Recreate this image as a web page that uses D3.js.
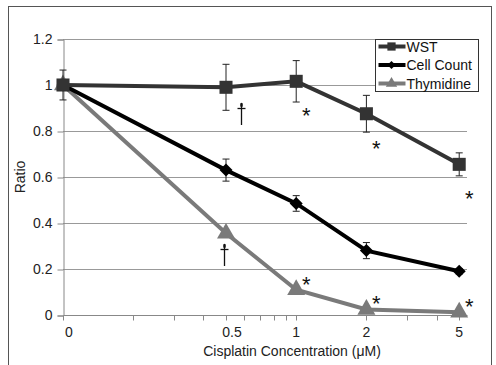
<!DOCTYPE html>
<html>
<head>
<meta charset="utf-8">
<script src="https://cdn.jsdelivr.net/npm/d3@7"></script>
<style>
  body { margin: 0; background: #fff; }
  text { font-family: Arial, "Liberation Sans", sans-serif; }
</style>
</head>
<body>
<svg id="chart" width="496" height="365"></svg>
<script>
// concentrations (0 is drawn at the log axis floor 0.1)
let concentrations = [0, 0.5, 1, 2, 5]
let tickLabels = ["0", "0.5", "1", "2", "5"]

let wst = [1.0, 0.99, 1.016, 0.875, 0.655]
let wstErr = [0.065, 0.1, 0.09, 0.08, 0.05]
let cellCount = [1.0, 0.63, 0.485, 0.28, 0.19]
let cellErr = [0.0, 0.048, 0.034, 0.035, 0.012]
let thymidine = [1.0, 0.355, 0.11, 0.024, 0.012]
let thymErr = [0, 0, 0, 0, 0]

let seriesNames = ["WST", "Cell Count", "Thymidine"]

// significance marks: [series index, concentration, symbol]
let marks = [
  [0, 0.5, "†"], [0, 1, "*"], [0, 2, "*"], [0, 5, "*"],
  [2, 0.5, "†"], [2, 1, "*"], [2, 2, "*"], [2, 5, "*"]
]

let width = 496
let height = 365
let margin = { top: 39, right: 26, bottom: 50, left: 63 }
let svg = d3.select("#chart")

let diamond = {
  draw: function (ctx, size) {
    let r = Math.sqrt(size / 2)
    ctx.moveTo(0, -r)
    ctx.lineTo(r, 0)
    ctx.lineTo(0, r)
    ctx.lineTo(-r, 0)
    ctx.closePath()
  }
}

let series = [
  { name: seriesNames[0], values: wst, err: wstErr, color: "#333333", shape: d3.symbolSquare, size: 170 },
  { name: seriesNames[1], values: cellCount, err: cellErr, color: "#000000", shape: diamond, size: 85 },
  { name: seriesNames[2], values: thymidine, err: thymErr, color: "#7a7a7a", shape: d3.symbolTriangle, size: 140 }
]

let x = d3.scaleLog()
  .domain([0.1, 5.4])
  .range([margin.left, width - margin.right - 3])

let xPos = c => x(c === 0 ? 0.1 : c)

let y = d3.scaleLinear()
  .domain([0, 1.2])
  .range([height - margin.bottom, margin.top])

// outer frame
svg.append("rect")
  .attr("x", 8.5).attr("y", 6.5)
  .attr("width", 483).attr("height", 380)
  .style("fill", "none")
  .style("stroke", "#555")
  .style("stroke-width", "1px")

// gridlines
svg.append("g")
  .selectAll("line")
  .data(d3.range(0.2, 1.21, 0.2))
  .join("line")
  .attr("x1", margin.left)
  .attr("x2", x(5.4))
  .attr("y1", d => Math.round(y(d)) + 0.5)
  .attr("y2", d => Math.round(y(d)) + 0.5)
  .style("stroke", "#999")
  .style("stroke-width", "1px")

// y axis
let yAxis = svg.append("g")
  .attr("transform", `translate(${margin.left + 0.5},0.5)`)
  .call(d3.axisLeft(y).tickValues(d3.range(0, 1.21, 0.2)).tickSize(6).tickPadding(4)
    .tickFormat(d => +d.toFixed(1) + ""))
yAxis.select(".domain").style("stroke", "#888")
yAxis.selectAll(".tick line").style("stroke", "#888")
yAxis.selectAll("text").style("font-size", "14px").style("fill", "#222")
  .attr("dx", -1)

// x axis: log ticks
let minorTicks = d3.range(1, 10).map(d => d / 10).concat([1, 2, 3, 4, 5])
let xAxis = svg.append("g")
  .attr("transform", `translate(0.5,${Math.round(y(0)) + 0.5})`)
xAxis.append("line")
  .attr("x1", margin.left).attr("x2", x(5.4))
  .style("stroke", "#888")
xAxis.selectAll(".minor")
  .data(minorTicks)
  .join("line")
  .attr("x1", d => Math.round(x(d)))
  .attr("x2", d => Math.round(x(d)))
  .attr("y1", 0).attr("y2", 5)
  .style("stroke", "#888")

svg.append("g")
  .selectAll("text")
  .data(concentrations)
  .join("text")
  .attr("x", (d, i) => xPos(d) + (i === 0 ? 6 : i === 1 ? 6 : 0))
  .attr("y", 337)
  .attr("text-anchor", "middle")
  .style("font-size", "14px")
  .style("fill", "#222")
  .text((d, i) => tickLabels[i])

// axis titles
svg.append("text")
  .attr("x", 292).attr("y", 356)
  .attr("text-anchor", "middle")
  .style("font-size", "14px")
  .style("fill", "#222")
  .text("Cisplatin Concentration (μM)")

svg.append("text")
  .attr("transform", "translate(25,177) rotate(-90)")
  .attr("text-anchor", "middle")
  .style("font-size", "14px")
  .style("fill", "#222")
  .text("Ratio")

let line = d3.line()
  .x((d, i) => xPos(concentrations[i]))
  .y(d => y(d))

// draw series back to front: thymidine, cell count, wst
series.slice().reverse().forEach(s => {
  let g = svg.append("g")

  // error bars
  s.values.forEach((v, i) => {
    if (s.err[i] <= 0) return
    let cx = xPos(concentrations[i])
    let eg = g.append("g").style("stroke", "#222").style("stroke-width", "1px")
    eg.append("line").attr("x1", cx).attr("x2", cx)
      .attr("y1", y(v + s.err[i])).attr("y2", y(v - s.err[i]))
    eg.append("line").attr("x1", cx - 3.5).attr("x2", cx + 3.5)
      .attr("y1", y(v + s.err[i])).attr("y2", y(v + s.err[i]))
    eg.append("line").attr("x1", cx - 3.5).attr("x2", cx + 3.5)
      .attr("y1", y(v - s.err[i])).attr("y2", y(v - s.err[i]))
  })

  g.append("path")
    .attr("d", line(s.values))
    .style("fill", "none")
    .style("stroke", s.color)
    .style("stroke-width", "4px")

  g.selectAll(".pt")
    .data(s.values)
    .join("path")
    .attr("transform", (d, i) => `translate(${xPos(concentrations[i])},${y(d)})`)
    .attr("d", d3.symbol().type(s.shape).size(s.size))
    .style("fill", s.color)
})

// significance marks
let markPos = d => {
  let v = series[d[0]].values[concentrations.indexOf(d[1])]
  if (d[2] === "†") return [xPos(d[1]) + (d[0] === 0 ? 15 : -2), y(v) + (d[0] === 0 ? 16 : 11)]
  return [xPos(d[1]) + 10, y(v) + (d[0] === 0 ? 42 : 2)]
}

let markG = svg.append("g")
marks.filter(d => d[2] === "*").forEach(d => {
  let p = markPos(d)
  markG.append("text")
    .attr("x", p[0]).attr("y", p[1])
    .attr("text-anchor", "middle")
    .style("font-size", "22px")
    .style("fill", "#111")
    .text(d[2])
})
// dagger drawn as strokes so it stays thin and crisp
marks.filter(d => d[2] === "†").forEach(d => {
  let p = markPos(d)
  let dg = markG.append("g")
    .attr("transform", `translate(${Math.round(p[0]) + 0.5},${Math.round(p[1])})`)
    .style("stroke", "#111")
  dg.append("line").attr("x1", 0).attr("x2", 0).attr("y1", 0).attr("y2", 22)
    .style("stroke-width", "1.3px")
  dg.append("line").attr("x1", -4).attr("x2", 4).attr("y1", 5.5).attr("y2", 5.5)
    .style("stroke-width", "1.3px")
  dg.append("ellipse").attr("cx", 0).attr("cy", 2).attr("rx", 1.3).attr("ry", 2.2)
    .style("fill", "#111").style("stroke", "none")
})

// legend
let legend = svg.append("g").attr("transform", "translate(375.5,39.5)")
legend.append("rect")
  .attr("width", 103).attr("height", 52)
  .style("fill", "#fff")
  .style("stroke", "#333")
  .style("stroke-width", "1px")

series.forEach((s, i) => {
  let ly = 7 + i * 18.5
  legend.append("line")
    .attr("x1", 3).attr("x2", 30)
    .attr("y1", ly).attr("y2", ly)
    .style("stroke", s.color)
    .style("stroke-width", "4px")
  legend.append("path")
    .attr("transform", `translate(16,${ly})`)
    .attr("d", d3.symbol().type(s.shape).size(s.size * 0.4))
    .style("fill", s.color)
  legend.append("text")
    .attr("x", 31).attr("y", ly + 5)
    .style("font-size", "14px")
    .style("fill", "#111")
    .text(s.name)
})
</script>
</body>
</html>
